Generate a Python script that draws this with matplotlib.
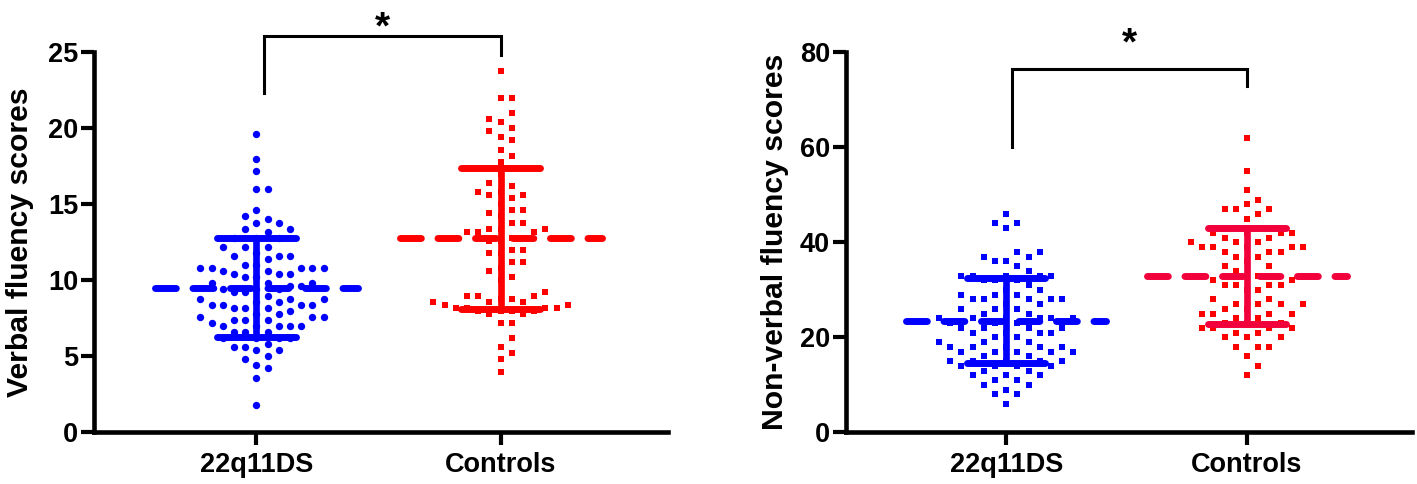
import numpy as np
import matplotlib
matplotlib.use('Agg')
import matplotlib.pyplot as plt

groups = ['22q11DS', 'Controls']

# verbal fluency (left panel)
verbal_22q = [19.6, 18.0, 17.2, 16.0, 16.0, 14.6, 14.2, 14.0, 13.8, 13.8, 13.4, 13.4, 13.2,
              12.8, 12.8, 12.8, 12.2, 12.2, 12.2, 11.8, 11.6, 11.6, 11.6, 11.4, 11.0, 11.0,
              10.8, 10.8, 10.8, 10.8, 10.8, 10.6, 10.6, 10.4, 10.4, 10.4, 10.2, 10.2,
              9.8, 9.8, 9.8, 9.6, 9.6, 9.4, 9.4, 9.4, 9.2, 9.2, 9.0, 8.8, 8.8, 8.8, 8.6, 8.6,
              8.4, 8.4, 8.4, 8.4, 8.2, 8.2, 8.2, 8.0, 7.8, 7.8, 7.6, 7.6, 7.6, 7.4, 7.4, 7.4,
              7.2, 7.0, 7.0, 7.0, 7.0, 7.0, 6.6, 6.6, 6.6, 6.2, 6.2, 6.2, 6.2, 5.8, 5.6, 5.6,
              5.4, 5.4, 5.0, 4.8, 4.4, 4.2, 3.6, 1.8]
verbal_ctrl = [23.8, 22.0, 22.0, 21.0, 20.6, 20.4, 20.0, 19.8, 19.4, 19.2, 18.6, 18.2, 17.8,
               17.4, 17.0, 16.4, 16.2, 15.8, 15.8, 15.6, 15.6, 15.4, 15.0, 14.6, 14.6, 14.4,
               14.2, 13.8, 13.8, 13.4, 13.4, 13.4, 13.2, 13.2, 13.2, 12.8, 12.8, 12.6, 12.6,
               12.0, 12.0, 11.8, 11.8, 11.2, 11.2, 10.8, 10.6, 10.2, 10.0, 9.2, 9.0, 9.0, 9.0,
               8.8, 8.8, 8.6, 8.6, 8.6, 8.4, 8.4, 8.2, 8.2, 8.2, 8.2, 8.0, 8.0, 8.0, 8.0,
               7.8, 7.8, 7.2, 7.2, 6.2, 5.6, 5.2, 4.8, 4.0]
verbal_mean = [9.5, 12.75]
verbal_sd = [3.25, 4.62]
verbal_ticks = [0, 5, 10, 15, 20, 25]

# non-verbal fluency (right panel)
nonverbal_22q = [46, 44, 44, 43, 38, 38, 37, 37, 36, 36, 35, 34, 33, 33, 33, 33, 33, 32, 32, 32,
                 31, 30, 30, 29, 29, 29, 28, 28, 28, 28, 28, 27, 27, 26, 26, 26, 25, 25,
                 24, 24, 24, 24, 24, 24, 23, 23, 23, 22, 22, 22, 22, 21, 21, 21, 21, 20, 20,
                 19, 19, 19, 18, 18, 18, 18, 18, 17, 17, 17, 17, 17, 16, 16, 15, 15, 15, 15, 15,
                 14, 14, 14, 14, 13, 13, 12, 12, 12, 11, 11, 10, 10, 9, 8, 8, 6]
nonverbal_ctrl = [62, 55, 51, 49, 48, 47, 47, 47, 46, 45, 43, 43, 42, 42, 42, 42, 41, 41,
                  40, 40, 40, 39, 39, 39, 39, 39, 38, 38, 38, 37, 37, 36, 35, 35, 34,
                  33, 33, 33, 33, 32, 32, 31, 31, 31, 31, 30, 30, 28, 28, 27, 27, 27, 27,
                  26, 26, 25, 25, 25, 25, 24, 24, 23, 23, 23, 22, 22, 22, 22, 21, 21,
                  20, 20, 20, 18, 18, 18, 16, 14, 12]
nonverbal_mean = [23.5, 32.95]
nonverbal_sd = [9.0, 10.15]
nonverbal_ticks = [0, 20, 40, 60, 80]

plt.rcParams['font.family'] = ['Liberation Sans', 'DejaVu Sans']
plt.rcParams['font.weight'] = 'bold'

BLUE = '#0000FF'
RED = '#FF0000'
CRIMSON = '#F2003C'


def swarm_x(ax, xc, values, step_px=11.2, height_px=10.0):
    # spread points sideways (in screen pixels) so that no two overlap
    vals = np.asarray(values, dtype=float)
    pts = ax.transData.transform(np.column_stack([np.full(len(vals), xc), vals]))
    placed = []
    off = np.zeros(len(vals))
    for i in np.argsort(vals, kind='stable'):
        y = pts[i, 1]
        k = 0
        while True:
            n = (k + 1) // 2
            dx = n * (1 if k % 2 else -1) * step_px / 2
            if all(abs(dx - px) >= step_px - 0.01 or abs(y - py) >= height_px for px, py in placed):
                break
            k += 1
        placed.append((dx, y))
        off[i] = dx
    back = ax.transData.inverted().transform(np.column_stack([pts[:, 0] + off, pts[:, 1]]))
    return back[:, 0]


def draw_panel(ax, data, means, sds, styles, ylim, ticks, ylabel, bracket, star_y, row_px):
    ax.set_xlim(-0.665, 1.685)
    ax.set_ylim(*ylim)
    for spine in ['top', 'right']:
        ax.spines[spine].set_visible(False)
    for spine in ['left', 'bottom']:
        ax.spines[spine].set_linewidth(3.3)
    ax.set_yticks(ticks)
    ax.set_xticks([0, 1])
    ax.set_xticklabels(groups)
    ax.tick_params(axis='y', length=9.5, width=3, labelsize=19.5, pad=2)
    ax.tick_params(axis='x', length=9.5, width=3, labelsize=19.5, pad=5)
    ax.set_ylabel(ylabel, fontsize=21.7, fontweight='bold')

    for i, vals in enumerate(data):
        pt_color, line_color, marker, msize = styles[i]
        xs = swarm_x(ax, i, vals, height_px=row_px)
        ax.plot(xs, vals, linestyle='none', marker=marker, markersize=msize,
                markerfacecolor=pt_color, markeredgewidth=0, zorder=2)
        m, s = means[i], sds[i]
        ax.plot([i - 0.414, i + 0.414], [m, m], color=line_color, lw=5,
                dashes=(3.0, 2.4), dash_capstyle='round', zorder=3)
        ax.plot([i, i], [m - s, m + s], color=line_color, lw=4.8, zorder=3)
        for yy in (m - s, m + s):
            ax.plot([i - 0.162, i + 0.162], [yy, yy], color=line_color, lw=5,
                    solid_capstyle='round', zorder=3)

    x0, x1, top, left_end, right_end = bracket
    ax.plot([x0, x0, x1, x1], [left_end, top, top, right_end], color='black',
            lw=2.2, clip_on=False, solid_joinstyle='miter')
    ax.text((x0 + x1) / 2, star_y, '*', ha='center', va='baseline',
            fontsize=28, fontweight='bold', clip_on=False)


fig = plt.figure(figsize=(14.17, 4.84), dpi=100)
ax1 = fig.add_axes([94 / 1417, 51.7 / 484, 574 / 1417, 380 / 484])
ax2 = fig.add_axes([846 / 1417, 51.7 / 484, 566 / 1417, 380 / 484])

draw_panel(ax1, [verbal_22q, verbal_ctrl], verbal_mean, verbal_sd,
           [(BLUE, BLUE, 'o', 5.3), (RED, RED, 's', 4.7)],
           (0, 25), verbal_ticks, 'Verbal fluency scores',
           (0.03, 1.0, 26.1, 22.3, 24.8), 25.9, 10.0)
draw_panel(ax2, [nonverbal_22q, nonverbal_ctrl], nonverbal_mean, nonverbal_sd,
           [(BLUE, BLUE, 's', 4.6), (RED, CRIMSON, 's', 4.6)],
           (0, 80), nonverbal_ticks, 'Non-verbal fluency scores',
           (0.025, 1.0, 76.5, 60.1, 72.8), 79.6, 12.0)

ax1.yaxis.set_label_coords(-0.1045, 0.5)
ax2.yaxis.set_label_coords(-0.1007, 0.5)

fig.savefig('out.png', dpi=100)
